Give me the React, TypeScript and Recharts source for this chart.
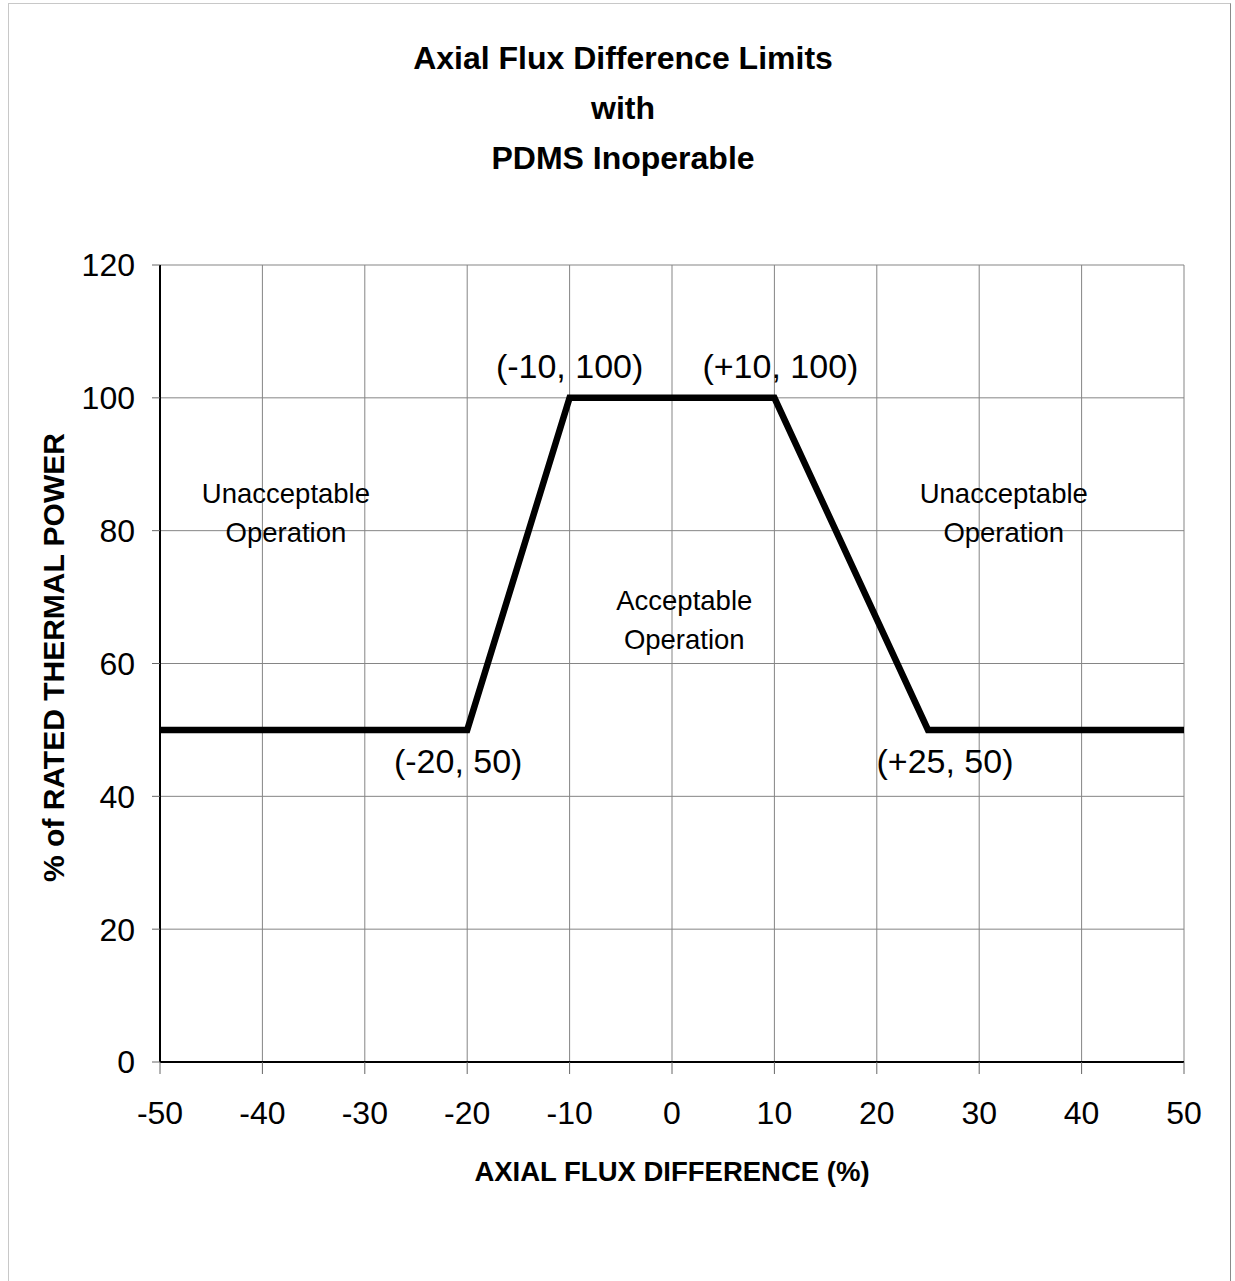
import { LineChart, Line, XAxis, YAxis, CartesianGrid, ReferenceDot } from 'recharts';

const flux = [-50, -20, -10, 10, 25, 50];
const power = [50, 50, 100, 100, 50, 50];
const xTicks = [-50, -40, -30, -20, -10, 0, 10, 20, 30, 40, 50];
const yTicks = [0, 20, 40, 60, 80, 100, 120];

const titleLines = ['Axial Flux Difference Limits', 'with', 'PDMS Inoperable'];

// corner labels, anchored on the break points
const pointLabels = [
  { x: -10, y: 100, text: '(-10, 100)', dx: 0, dy: -20 },
  { x: 10, y: 100, text: '(+10, 100)', dx: 6, dy: -20 },
  { x: -20, y: 50, text: '(-20, 50)', dx: -9, dy: 43 },
  { x: 25, y: 50, text: '(+25, 50)', dx: 17, dy: 43 },
];

const regionLabels = [
  { x: -37.7, y: 84.2, lines: ['Unacceptable', 'Operation'] },
  { x: 32.4, y: 84.2, lines: ['Unacceptable', 'Operation'] },
  { x: 1.2, y: 68.1, lines: ['Acceptable', 'Operation'] },
];

const data = flux.map((f, i) => ({ flux: f, power: power[i] }));

const font = 'Arial, "Liberation Sans", sans-serif';

export default function App() {
  return (
    <div style={{ position: 'absolute', left: 0, top: 0, width: 1235, height: 1281, background: '#fff', fontFamily: font }}>
      <div
        style={{
          position: 'absolute',
          left: 8,
          top: 3,
          width: 1221,
          height: 1300,
          borderTop: '1px solid #c8c8c8',
          borderLeft: '1px solid #c8c8c8',
          borderRight: '1px solid #8a8a8a',
        }}
      />
      <svg width={1235} height={200} style={{ position: 'absolute', left: 0, top: 0 }}>
        {titleLines.map((t, i) => (
          <text key={t} x={623} y={69 + i * 50} textAnchor="middle" fontFamily={font} fontWeight="bold" fontSize={32} fill="#000">
            {t}
          </text>
        ))}
      </svg>
      <div style={{ position: 'absolute', left: 0, top: 0 }}>
        <LineChart width={1235} height={1281} data={data} margin={{ top: 265, right: 51, left: 100, bottom: 159 }}>
          <CartesianGrid stroke="#858585" strokeWidth={1} />
          <XAxis
            dataKey="flux"
            type="number"
            domain={[-50, 50]}
            ticks={xTicks}
            height={60}
            axisLine={{ stroke: '#000', strokeWidth: 2 }}
            tickLine={{ stroke: '#666' }}
            tickSize={12}
            tickMargin={27}
            tick={{ fontSize: 32, fill: '#000', fontFamily: font }}
            label={{
              content: ({ viewBox }: any) => (
                <text
                  x={viewBox.x + viewBox.width / 2}
                  y={viewBox.y + 119}
                  textAnchor="middle"
                  fontFamily={font}
                  fontWeight="bold"
                  fontSize={27.5}
                  fill="#000"
                >
                  AXIAL FLUX DIFFERENCE (%)
                </text>
              ),
            }}
          />
          <YAxis
            type="number"
            domain={[0, 120]}
            ticks={yTicks}
            width={60}
            axisLine={{ stroke: '#000', strokeWidth: 2 }}
            tickLine={{ stroke: '#666' }}
            tickSize={8}
            tickMargin={17}
            tick={{ fontSize: 32, fill: '#000', fontFamily: font }}
            label={{
              content: ({ viewBox }: any) => {
                const cx = 53;
                const cy = viewBox.y + viewBox.height / 2 - 6;
                return (
                  <text
                    x={cx}
                    y={cy}
                    dy="0.35em"
                    transform={`rotate(-90, ${cx}, ${cy})`}
                    textAnchor="middle"
                    fontFamily={font}
                    fontWeight="bold"
                    fontSize={30}
                    fill="#000"
                  >
                    % of RATED THERMAL POWER
                  </text>
                );
              },
            }}
          />
          <Line
            type="linear"
            dataKey="power"
            stroke="#000"
            strokeWidth={6.5}
            dot={false}
            isAnimationActive={false}
          />
          {pointLabels.map((p) => (
            <ReferenceDot
              key={p.text}
              x={p.x}
              y={p.y}
              r={0}
              stroke="none"
              fill="none"
              label={{
                content: ({ viewBox }: any) => (
                  <text
                    x={viewBox.x + viewBox.width / 2 + p.dx}
                    y={viewBox.y + viewBox.height / 2 + p.dy}
                    textAnchor="middle"
                    fontFamily={font}
                    fontSize={34}
                    fill="#000"
                  >
                    {p.text}
                  </text>
                ),
              }}
            />
          ))}
          {regionLabels.map((r, i) => (
            <ReferenceDot
              key={i}
              x={r.x}
              y={r.y}
              r={0}
              stroke="none"
              fill="none"
              label={{
                content: ({ viewBox }: any) => (
                  <text textAnchor="middle" fontFamily={font} fontSize={27.5} fill="#000">
                    {r.lines.map((ln, j) => (
                      <tspan key={j} x={viewBox.x + viewBox.width / 2} y={viewBox.y + viewBox.height / 2 + j * 39}>
                        {ln}
                      </tspan>
                    ))}
                  </text>
                ),
              }}
            />
          ))}
        </LineChart>
      </div>
    </div>
  );
}
